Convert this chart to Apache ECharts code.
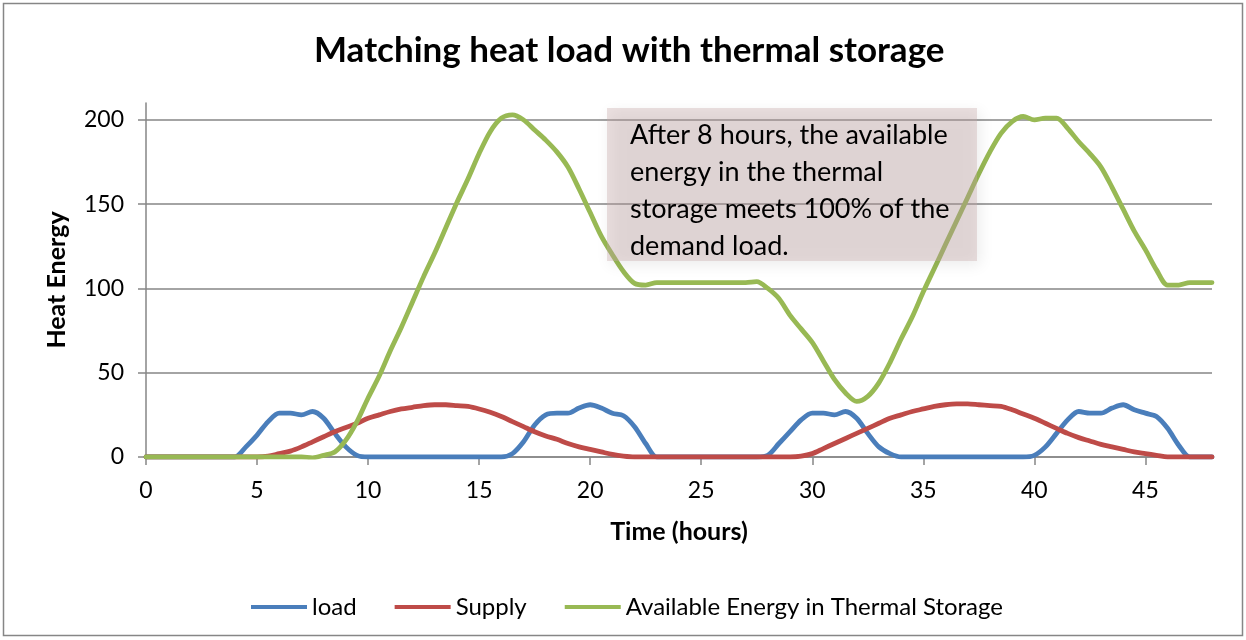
<!DOCTYPE html>
<html>
<head>
<meta charset="utf-8">
<script src="https://cdn.jsdelivr.net/npm/echarts@6/dist/echarts.min.js"></script>
<style>
html,body{margin:0;padding:0;background:#fff;}
#c{width:1246px;height:640px;}
</style>
</head>
<body>
<div id="c"></div>
<script>
// Time in half-hour steps, 0 .. 48 hours
const hours = [];
for (let i = 0; i <= 96; i++) hours.push(String(i / 2));

const load = [
  0, 0, 0, 0, 0, 0, 0, 0, 0, 6,          // 0 - 4.5
  13, 21, 26, 26, 25, 27, 23, 14, 6, 1,   // 5 - 9.5
  0, 0, 0, 0, 0, 0, 0, 0, 0, 0,          // 10 - 14.5
  0, 0, 0, 2, 9, 19, 25, 26, 26, 29,     // 15 - 19.5
  31, 29, 26, 24.5, 18, 8, 0, 0, 0, 0,   // 20 - 24.5
  0, 0, 0, 0, 0, 0, 1, 8, 15, 22,        // 25 - 29.5
  26, 26, 25, 27, 23, 14, 6, 2, 0, 0,    // 30 - 34.5
  0, 0, 0, 0, 0, 0, 0, 0, 0, 0,          // 35 - 39.5
  1, 6, 14, 22, 27, 26, 26, 29, 31, 28,  // 40 - 44.5
  26, 24, 17, 7, 0, 0, 0                 // 45 - 48
];
const supply = [
  0, 0, 0, 0, 0, 0, 0, 0, 0, 0,
  0, 0.5, 2, 3.5, 6, 9, 12, 15, 17.5, 20,
  23, 25, 27, 28.5, 29.5, 30.5, 31, 31, 30.5, 30,
  28.5, 26.5, 24, 21, 18, 15, 12.5, 10.5, 8, 6,
  4.5, 3, 1.5, 0.5, 0, 0, 0, 0, 0, 0,
  0, 0, 0, 0, 0, 0, 0, 0, 0, 0.5,
  2, 5, 8, 11, 14, 17, 20, 23, 25, 27,
  28.5, 30, 31, 31.5, 31.5, 31, 30.5, 30, 28, 25.5,
  23, 20, 17, 14, 11.5, 9.5, 7.5, 6, 4.5, 3,
  2, 1, 0, 0, 0, 0, 0
];
const storage = [
  0, 0, 0, 0, 0, 0, 0, 0, 0, 0,
  0, 0, 0, 0, 0, -0.5, 1, 3, 10, 21,
  35, 48, 63, 77, 92, 107, 121, 136, 151, 165,
  180, 193, 201, 203, 200, 194, 188, 181, 172, 159,
  145, 131, 120, 110, 103, 102, 103.5, 103.5, 103.5, 103.5,
  103.5, 103.5, 103.5, 103.5, 103.5, 104, 100, 94, 84, 76,
  68, 57, 46, 38, 33, 36, 44, 56, 70, 83,
  98, 112, 126, 140, 154, 168, 181, 192, 199, 202,
  200, 201, 201, 195, 187, 180, 172, 160, 147, 134,
  123, 111, 102, 102, 103.5, 103.5, 103.5
];
const yTicks = [0, 50, 100, 150, 200];

const seriesNames = ['load', 'Supply', 'Available Energy in Thermal Storage'];
const colors = ['#4a7ebb', '#be4b48', '#98b954'];
const FONT = 'Lato';

const chart = echarts.init(document.getElementById('c'), null, {renderer: 'canvas'});
const mk = (name, data, color) => ({
  name, type: 'line', data, smooth: 0.3, showSymbol: false, symbol: 'none',
  lineStyle: {width: 4.8, color, cap: 'round', join: 'round'},
  itemStyle: {color},
  emphasis: {disabled: true},
  z: 3
});
chart.setOption({
  animation: false,
  backgroundColor: '#fff',
  textStyle: {fontFamily: FONT},
  title: {
    text: 'Matching heat load with thermal storage',
    left: 309, top: 28,
    textStyle: {fontFamily: FONT, fontWeight: 'bold', fontSize: 35, color: '#000'}
  },
  grid: {left: 146, right: 34, top: 103, bottom: 183, containLabel: false},
  legend: {
    left: 246, top: 590,
    itemWidth: 56, itemHeight: 14, itemGap: 38,
    icon: 'path://M0,5 L56,5 L56,9 L0,9 Z',
    textStyle: {fontFamily: FONT, fontSize: 24, color: '#000'},
    data: seriesNames
  },
  xAxis: {
    type: 'category', data: hours, boundaryGap: false,
    name: 'Time (hours)', nameLocation: 'middle', nameGap: 62,
    nameTextStyle: {fontFamily: FONT, fontWeight: 'bold', fontSize: 25, color: '#000'},
    axisLine: {lineStyle: {color: '#868686', width: 1.5}},
    axisTick: {interval: 9, length: 8, lineStyle: {color: '#868686', width: 1.5}},
    axisLabel: {interval: 9, margin: 22, fontFamily: FONT, fontSize: 23, color: '#000'},
    splitLine: {show: false}
  },
  yAxis: {
    type: 'value', min: 0, max: 210, interval: 50,
    name: 'Heat Energy', nameLocation: 'middle', nameGap: 77, nameRotate: 90,
    nameTextStyle: {fontFamily: FONT, fontWeight: 'bold', fontSize: 25, color: '#000'},
    axisLine: {show: true, lineStyle: {color: '#868686', width: 1.5}},
    axisTick: {show: true, length: 8, customValues: yTicks, lineStyle: {color: '#868686', width: 1.5}},
    axisLabel: {margin: 22, customValues: yTicks, fontFamily: FONT, fontSize: 23, color: '#000'},
    splitLine: {show: true, lineStyle: {color: '#868686', width: 1.5}}
  },
  series: [
    mk(seriesNames[0], load, colors[0]),
    mk(seriesNames[1], supply, colors[1]),
    mk(seriesNames[2], storage, colors[2])
  ],
  graphic: [
    {
      type: 'rect', left: 1, top: 1, z: 0,
      shape: {width: 1239, height: 632},
      style: {fill: 'none', stroke: '#868686', lineWidth: 1.5}
    },
    {
      type: 'rect', left: 607, top: 108, z: 50,
      shape: {width: 370, height: 153},
      style: {fill: 'rgba(200,170,170,0.36)', shadowBlur: 14, shadowColor: 'rgba(0,0,0,0.22)', shadowOffsetX: 3, shadowOffsetY: 4}
    },
    {
      type: 'text', left: 630, top: 117, z: 51,
      style: {
        text: 'After 8 hours, the available\nenergy in the thermal\nstorage meets 100% of the\ndemand load.',
        font: '27px Lato', lineHeight: 37, fill: '#000'
      }
    }
  ]
});
</script>
</body>
</html>
